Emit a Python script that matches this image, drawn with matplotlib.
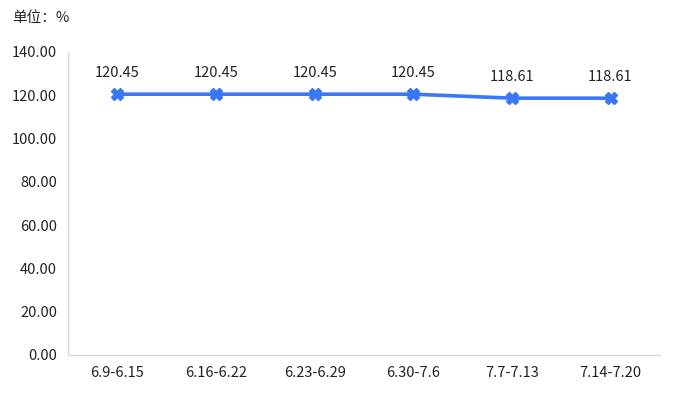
import matplotlib
matplotlib.use("Agg")
import matplotlib.pyplot as plt

plt.rcParams["font.family"] = ["Noto Sans CJK SC", "DejaVu Sans"]

periods = ["6.9-6.15", "6.16-6.22", "6.23-6.29", "6.30-7.6", "7.7-7.13", "7.14-7.20"]
values = [120.45, 120.45, 120.45, 120.45, 118.61, 118.61]
yticks = [0, 20, 40, 60, 80, 100, 120, 140]

LINE = "#3A76F8"

fig = plt.figure(figsize=(6.74, 3.93), dpi=100)
ax = fig.add_axes([0.101, 0.097, 0.878, 0.771])

x = list(range(len(periods)))
ax.plot(x, values, color=LINE, lw=2.6, marker="X", ms=9, mec=LINE, mfc=LINE, zorder=3)
for xi, v in zip(x, values):
    ax.annotate(f"{v:.2f}", (xi, v), xytext=(0, 10), textcoords="offset points",
                ha="center", va="bottom", fontsize=10.5, color="#222222")

ax.set_xlim(-0.5, len(periods) - 0.5)
ax.set_ylim(0, 140)
ax.set_xticks(x)
ax.set_xticklabels(periods)
ax.set_yticks(yticks)
ax.set_yticklabels([f"{t:.2f}" for t in yticks])
ax.tick_params(length=0, labelsize=10.5, colors="#222222", pad=8)

for s in ["top", "right"]:
    ax.spines[s].set_visible(False)
for s in ["left", "bottom"]:
    ax.spines[s].set_color("#d9d9d9")
    ax.spines[s].set_linewidth(1)

fig.text(0.018, 0.955, "单位：%", fontsize=10.5, color="#222222", va="center", ha="left")

fig.savefig("out.png", dpi=100)
